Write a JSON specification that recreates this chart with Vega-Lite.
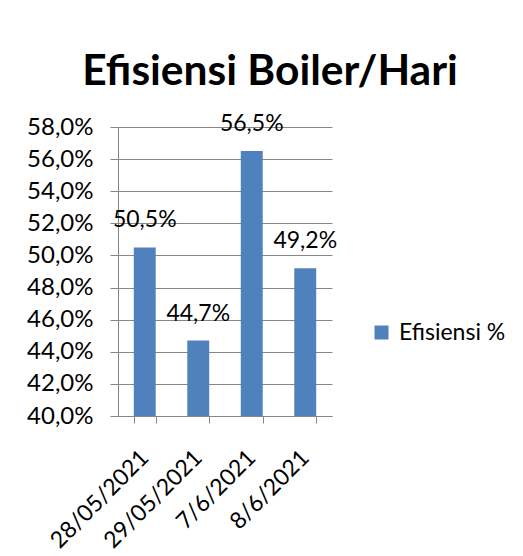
{
  "$schema": "https://vega.github.io/schema/vega-lite/v6.json",
  "autosize": {"type": "none"},
  "padding": {"left": 118, "top": 127, "right": 191, "bottom": 140},
  "width": 214,
  "height": 289,
  "background": "white",
  "config": {
    "locale": {"number": {"decimal": ",", "thousands": ".", "grouping": [3], "currency": ["", ""]}},
    "font": "Lato",
    "view": {"stroke": null}
  },
  "title": {
    "text": "Efisiensi Boiler/Hari",
    "font": "Lato",
    "fontSize": 42.5,
    "fontWeight": "bold",
    "color": "black",
    "anchor": "middle",
    "dx": 45,
    "offset": 20
  },
  "data": {
    "values": [
      {"tanggal": "28/05/2021", "efisiensi": 0.505, "seri": "Efisiensi %"},
      {"tanggal": "29/05/2021", "efisiensi": 0.447, "seri": "Efisiensi %"},
      {"tanggal": "7/6/2021", "efisiensi": 0.565, "seri": "Efisiensi %"},
      {"tanggal": "8/6/2021", "efisiensi": 0.492, "seri": "Efisiensi %"}
    ]
  },
  "encoding": {
    "x": {
      "field": "tanggal",
      "type": "nominal",
      "sort": null,
      "scale": {"paddingInner": 0.59, "paddingOuter": 0.295},
      "axis": {
        "title": null,
        "labelAngle": -45,
        "labelAlign": "right",
        "labelBaseline": "top",
        "labelFontSize": 23,
        "labelColor": "black",
        "labelPadding": 23,
        "labelOffset": -8,
        "tickBand": "extent",
        "tickSize": 7,
        "tickColor": "#868686",
        "domainColor": "#868686",
        "grid": false
      }
    },
    "y": {
      "field": "efisiensi",
      "type": "quantitative",
      "scale": {"domain": [0.4, 0.58], "zero": false, "nice": false},
      "axis": {
        "title": null,
        "format": ".1%",
        "values": [0.40, 0.42, 0.44, 0.46, 0.48, 0.50, 0.52, 0.54, 0.56, 0.58],
        "labelFontSize": 24,
        "labelColor": "black",
        "labelPadding": 17,
        "tickSize": 8,
        "tickColor": "#868686",
        "domainColor": "#868686",
        "gridColor": "#868686",
        "gridOpacity": 1
      }
    }
  },
  "layer": [
    {
      "mark": {"type": "bar", "color": "#4F81BD"},
      "encoding": {
        "y2": {"datum": 0.4},
        "color": {
          "field": "seri",
          "type": "nominal",
          "scale": {"range": ["#4F81BD"]},
          "legend": {
            "title": null,
            "orient": "none",
            "legendX": 252,
            "legendY": 194,
            "symbolType": "square",
            "symbolSize": 196,
            "symbolStrokeWidth": 0,
            "labelFontSize": 23,
            "labelColor": "black",
            "labelOffset": 6
          }
        }
      }
    },
    {
      "mark": {"type": "text", "baseline": "bottom", "dy": -15, "fontSize": 23, "color": "black"},
      "encoding": {
        "text": {"field": "efisiensi", "type": "quantitative", "format": ".1%"}
      }
    }
  ]
}
